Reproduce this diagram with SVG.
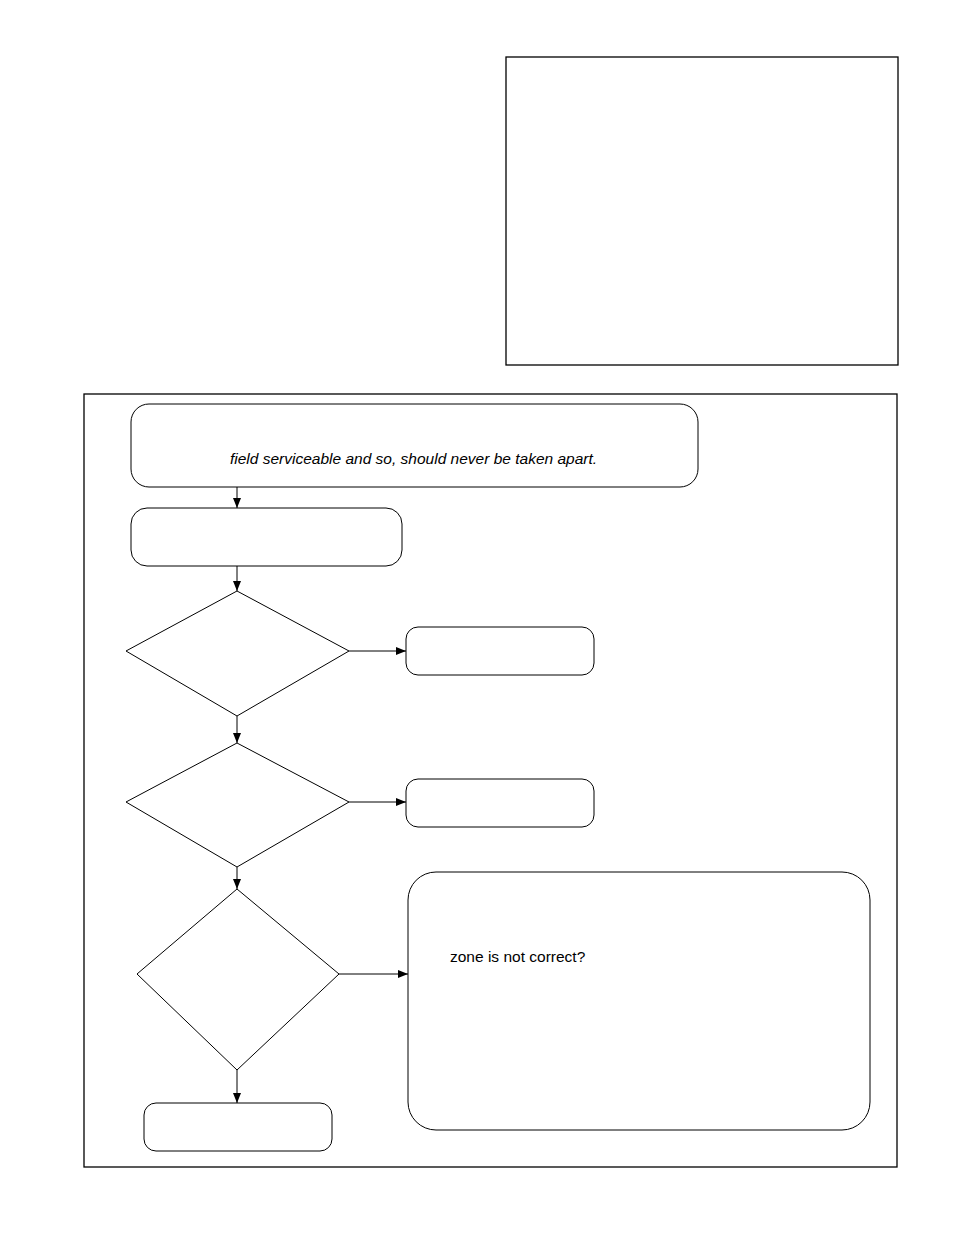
<svg xmlns="http://www.w3.org/2000/svg" width="954" height="1235" viewBox="0 0 954 1235">
<style>
.frame{fill:none;stroke:#000;stroke-width:1.3}
.node{fill:#fff;stroke:#000;stroke-width:1}
.edge{fill:none;stroke:#000;stroke-width:1}
.lbl{font-family:"Liberation Sans",Arial,sans-serif;font-size:15.5px;fill:#000}
.it{font-style:italic}
</style>
<defs>
<marker id="arr" viewBox="0 0 10 8" refX="10" refY="4" markerWidth="10" markerHeight="8" markerUnits="userSpaceOnUse" orient="auto">
<path d="M0,0 L10,4 L0,8 z" fill="#000"/>
</marker>
</defs>
<rect width="954" height="1235" fill="#fff"/>
<g id="notebox"><rect class="frame" x="506" y="57" width="392" height="308"/></g>
<g id="outerframe"><rect class="frame" x="84" y="394" width="813" height="773"/></g>
<g id="connectors">
<line class="edge" x1="237" y1="487" x2="237" y2="508" marker-end="url(#arr)"/>
<line class="edge" x1="237" y1="566" x2="237" y2="591" marker-end="url(#arr)"/>
<line class="edge" x1="349" y1="651" x2="406" y2="651" marker-end="url(#arr)"/>
<line class="edge" x1="237" y1="716" x2="237" y2="743" marker-end="url(#arr)"/>
<line class="edge" x1="349" y1="802" x2="406" y2="802" marker-end="url(#arr)"/>
<line class="edge" x1="237" y1="867" x2="237" y2="889" marker-end="url(#arr)"/>
<line class="edge" x1="339" y1="974" x2="408" y2="974" marker-end="url(#arr)"/>
<line class="edge" x1="237" y1="1070" x2="237" y2="1103" marker-end="url(#arr)"/>
</g>
<g id="n1"><rect class="node" x="131" y="404" width="567" height="83" rx="18"/>
<text class="lbl it" x="230" y="464">field serviceable and so, should never be taken apart.</text></g>
<g id="n2"><rect class="node" x="131" y="508" width="271" height="58" rx="16"/></g>
<g id="d1"><polygon class="node" points="237,591 349,651 237,716 126,651"/></g>
<g id="n3"><rect class="node" x="406" y="627" width="188" height="48" rx="12"/></g>
<g id="d2"><polygon class="node" points="237,743 349,802 237,867 126,802"/></g>
<g id="n4"><rect class="node" x="406" y="779" width="188" height="48" rx="12"/></g>
<g id="d3"><polygon class="node" points="237,889 339,974 237,1070 137,974"/></g>
<g id="n5"><rect class="node" x="408" y="872" width="462" height="258" rx="28"/>
<text class="lbl" x="450" y="962">zone is not correct?</text></g>
<g id="n6"><rect class="node" x="144" y="1103" width="188" height="48" rx="12"/></g>
</svg>
